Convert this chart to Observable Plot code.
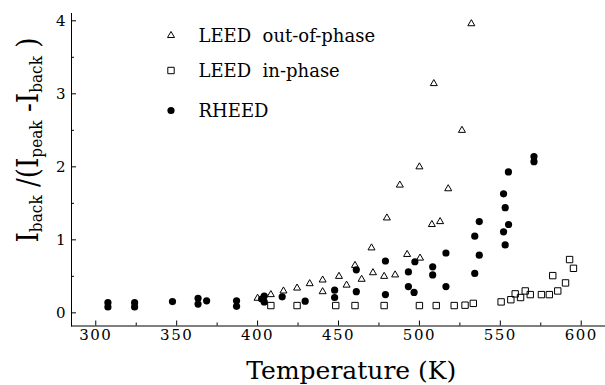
<!DOCTYPE html>
<html>
<head>
<meta charset="utf-8">
<script src="https://cdn.jsdelivr.net/npm/d3@7"></script>
<script src="https://cdn.jsdelivr.net/npm/@observablehq/plot@0.6"></script>
<style>
  body { margin: 0; background: #fff; }
  svg { display: block; }
</style>
</head>
<body>
<div id="chart"></div>
<script>
// LEED out-of-phase (open triangles)
const outT = [400, 408.2, 416, 424.4, 432.2, 440.2, 440.2, 450.3, 455, 460.2, 464.3, 470.4, 471.3, 478.2, 479.9, 485, 487.9, 492.4, 500, 500.4, 507.7, 508.9, 512.8, 517.8, 526.3, 532.1];
const outV = [0.20, 0.25, 0.30, 0.34, 0.40, 0.45, 0.29, 0.50, 0.38, 0.65, 0.46, 0.89, 0.55, 0.50, 1.30, 0.52, 1.75, 0.80, 2.00, 0.75, 1.21, 3.14, 1.25, 1.70, 2.50, 3.96];

// LEED in-phase (open squares)
const inT = [408.2, 424.4, 448.3, 460.2, 478.2, 500, 510.4, 521.5, 528.2, 533.3, 550.5, 556.5, 559.2, 562.5, 565.4, 568.5, 575.4, 580.3, 582.4, 585.5, 590.3, 592.8, 595.2];
const inV = [0.10, 0.10, 0.10, 0.10, 0.10, 0.10, 0.10, 0.10, 0.105, 0.13, 0.15, 0.18, 0.26, 0.21, 0.30, 0.25, 0.25, 0.25, 0.51, 0.30, 0.41, 0.73, 0.61];

// RHEED (filled circles)
const rhT = [307.5, 307.5, 324, 324, 347.4, 363.2, 363.2, 368.5, 387, 387, 404.1, 404.1, 402.5, 415.2, 429.4, 447.6, 447.6, 461, 461, 479, 479, 493.2, 493.2, 497.2, 496.7, 508.2, 508.2, 516.4, 516.4, 534.2, 534.2, 537, 537, 552, 552, 553, 553, 555, 555.1, 570.8, 570.8];
const rhV = [0.14, 0.08, 0.14, 0.08, 0.155, 0.20, 0.12, 0.165, 0.165, 0.09, 0.23, 0.15, 0.19, 0.22, 0.16, 0.31, 0.21, 0.59, 0.29, 0.71, 0.25, 0.56, 0.36, 0.70, 0.28, 0.63, 0.52, 0.82, 0.36, 1.05, 0.54, 1.25, 0.79, 1.63, 1.11, 1.44, 0.93, 1.93, 1.21, 2.14, 2.07];

const xMajor = [300, 350, 400, 450, 500, 550, 600];
const xMinor = [325, 375, 425, 475, 525, 575];
const yMajor = [0, 1, 2, 3, 4];
const yMinor = [0.5, 1.5, 2.5, 3.5];

const legendLabels = ["LEED\u00a0 out-of-phase", "LEED\u00a0 in-phase", "RHEED"];
const xTitle = "Temperature (K)";

const zip = (T, V) => T.map((t, i) => ({T: t, v: V[i]}));
const outData = zip(outT, outV);
const inData = zip(inT, inV);
const rhData = zip(rhT, rhV);

const symStyles = [
  {symbol: "triangle", r: 2.6, fill: "none", stroke: "black", strokeWidth: 1},
  {symbol: "square", r: 3.6, fill: "none", stroke: "black", strokeWidth: 1},
  {symbol: "circle", r: 3.6, fill: "black", stroke: "none"}
];
const legendDy = [22, 57, 97];

const legendMarks = legendLabels.flatMap((lab, i) => [
  Plot.dot([0], {frameAnchor: "top-left", dx: 99.5, dy: legendDy[i], ...symStyles[i]}),
  Plot.text([lab], {frameAnchor: "top-left", dx: 127, dy: legendDy[i] + 0.8, textAnchor: "start", lineAnchor: "middle", fontSize: 18, fill: "black"})
]);

const chart = Plot.plot({
  width: 605,
  height: 385,
  marginLeft: 71,
  marginRight: 0,
  marginTop: 13,
  marginBottom: 59.5,
  style: {fontFamily: "DejaVu Serif", background: "white", color: "black"},
  x: {domain: [285, 615]},
  y: {domain: [-0.18, 4.1]},
  marks: [
    Plot.frame({anchor: "left"}),
    Plot.frame({anchor: "bottom"}),
    Plot.axisX({ticks: xMajor, tickSize: -5, tickFormat: () => "", label: null}),
    Plot.axisX({ticks: xMinor, tickSize: -3, tickFormat: () => "", label: null}),
    Plot.axisX({ticks: xMajor, tickSize: 0, tickPadding: 3, fontSize: 15, tickFormat: d => String(d), label: null}),
    Plot.axisY({ticks: yMajor, tickSize: -5, tickFormat: () => "", label: null}),
    Plot.axisY({ticks: yMinor, tickSize: -3, tickFormat: () => "", label: null}),
    Plot.axisY({ticks: yMajor, tickSize: 0, tickPadding: 6, fontSize: 15, tickFormat: d => String(d), label: null}),
    Plot.dot(inData, {x: "T", y: "v", ...symStyles[1]}),
    Plot.dot(outData, {x: "T", y: "v", ...symStyles[0]}),
    Plot.dot(rhData, {x: "T", y: "v", ...symStyles[2]}),
    Plot.text([xTitle], {frameAnchor: "bottom", dx: 12.8, dy: 52.8, lineAnchor: "bottom", fontSize: 25, fill: "black"}),
    ...legendMarks
  ]
});

document.getElementById("chart").appendChild(chart);

const svg = d3.select(chart);
svg.selectAll('g[aria-label="x-axis tick label"] text').attr("letter-spacing", 1.5);

// Y-axis title with subscripts
const parts = [["I", 0], ["back", 1], [" /(", 0], ["I", 0], ["peak", 1], [" -", 0], ["I", 0], ["back", 1], [" )", 0]];
const yt = svg.append("text")
  .attr("transform", "translate(38,140) rotate(-90)")
  .attr("text-anchor", "middle")
  .attr("font-family", "DejaVu Serif")
  .attr("font-size", 29)
  .attr("fill", "black")
  .style("white-space", "pre");
let shift = 0;
for (const [s, sub] of parts) {
  const target = sub ? 4 : 0;
  yt.append("tspan")
    .attr("dy", target - shift)
    .attr("font-size", sub ? 17 : 29)
    .text(s);
  shift = target;
}
yt.attr("textLength", 205).attr("lengthAdjust", "spacingAndGlyphs");
</script>
</body>
</html>
